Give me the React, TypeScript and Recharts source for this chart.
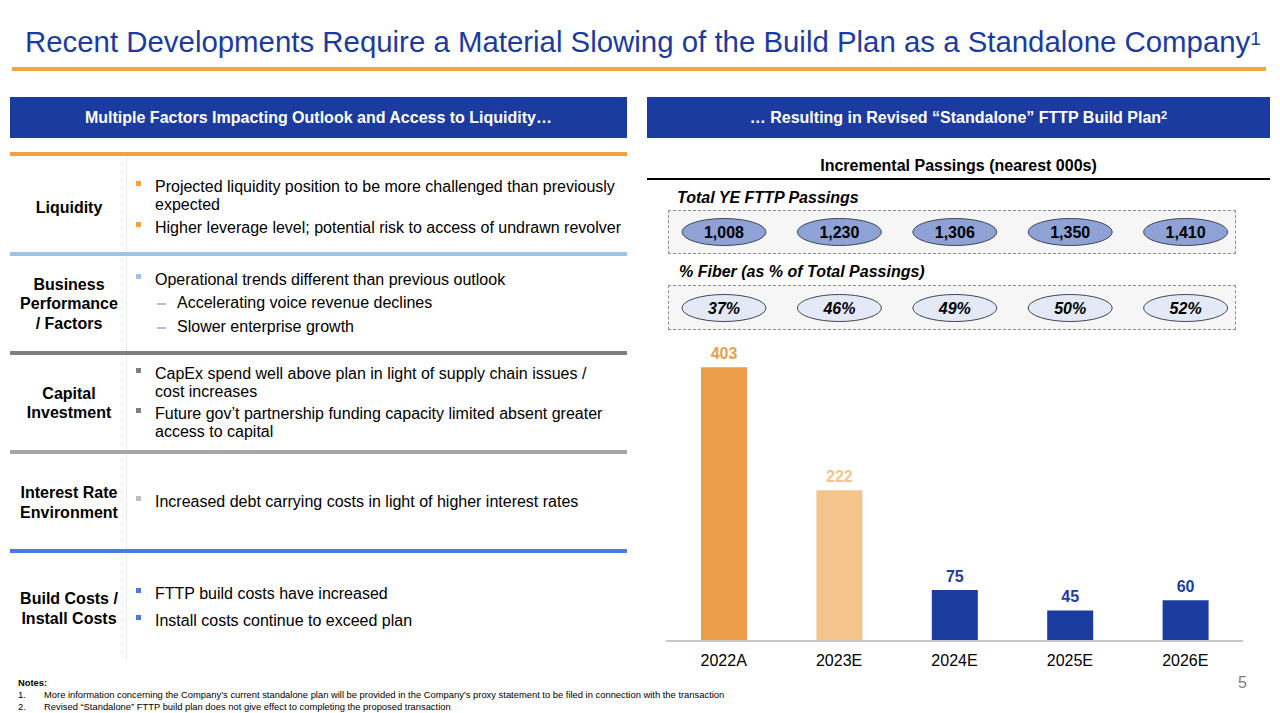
import React from 'react';
import { BarChart, Bar, XAxis, YAxis, Cell, LabelList } from 'recharts';

const years = ['2022A', '2023E', '2024E', '2025E', '2026E'];
const incrementalPassings = [403, 222, 75, 45, 60];
const totalPassings = [1008, 1230, 1306, 1350, 1410];
const fiberPct = [37, 46, 49, 50, 52];
const barColors = ['#EC9F48', '#F3C48C', '#1B3DA0', '#1B3DA0', '#1B3DA0'];
const labelColors = ['#EC9F48', '#F3C48C', '#1B3DA0', '#1B3DA0', '#1B3DA0'];

const data = years.map((year, i) => ({
    year,
    passings: incrementalPassings[i],
    total: totalPassings[i],
    fiber: fiberPct[i],
}));

const FONT = '"Liberation Sans", Arial, sans-serif';
const BLUE = '#1B3B9F';
const TXT = 16;

type Line = { y: number; text: string; dash?: boolean; bullet?: boolean };
type Row = { top: number; line: string; bulletColor: string; dashColor?: string; labels: { y: number; text: string }[]; lines: Line[] };

const rows: Row[] = [
    {
        top: 152, line: '#EFA23F', bulletColor: '#EFA23F',
        labels: [{ y: 208, text: 'Liquidity' }],
        lines: [
            { y: 187, text: 'Projected liquidity position to be more challenged than previously', bullet: true },
            { y: 205, text: 'expected' },
            { y: 228, text: 'Higher leverage level; potential risk to access of undrawn revolver', bullet: true },
        ],
    },
    {
        top: 252, line: '#9DC3E6', bulletColor: '#9DC3E6', dashColor: '#9DC3E6',
        labels: [{ y: 285, text: 'Business' }, { y: 304, text: 'Performance' }, { y: 324, text: '/ Factors' }],
        lines: [
            { y: 280, text: 'Operational trends different than previous outlook', bullet: true },
            { y: 303, text: 'Accelerating voice revenue declines', dash: true },
            { y: 327, text: 'Slower enterprise growth', dash: true },
        ],
    },
    {
        top: 351, line: '#7F7F7F', bulletColor: '#7F7F7F',
        labels: [{ y: 394, text: 'Capital' }, { y: 413, text: 'Investment' }],
        lines: [
            { y: 374, text: 'CapEx spend well above plan in light of supply chain issues /', bullet: true },
            { y: 392, text: 'cost increases' },
            { y: 414, text: 'Future gov\u2019t partnership funding capacity limited absent greater', bullet: true },
            { y: 432, text: 'access to capital' },
        ],
    },
    {
        top: 450, line: '#A6A6A6', bulletColor: '#BFBFBF',
        labels: [{ y: 493, text: 'Interest Rate' }, { y: 513, text: 'Environment' }],
        lines: [
            { y: 502, text: 'Increased debt carrying costs in light of higher interest rates', bullet: true },
        ],
    },
    {
        top: 549, line: '#4A78E6', bulletColor: '#4A78E6',
        labels: [{ y: 599, text: 'Build Costs /' }, { y: 619, text: 'Install Costs' }],
        lines: [
            { y: 594, text: 'FTTP build costs have increased', bullet: true },
            { y: 621, text: 'Install costs continue to exceed plan', bullet: true },
        ],
    },
];

const abs = (left: number, top: number, extra: React.CSSProperties = {}): React.CSSProperties => ({
    position: 'absolute', left, top, ...extra,
});

function TotalEllipse(props: any) {
    const { x, width, value } = props;
    const cx = x + width / 2;
    return (
        <g>
            <ellipse cx={cx} cy={52} rx={42} ry={13.5} fill="#8EA2D6" stroke="#404653" strokeWidth={1} />
            <text x={cx} y={58} textAnchor="middle" fontSize={16} fontWeight="bold" fill="#000" fontFamily={FONT}>
                {Number(value).toLocaleString('en-US')}
            </text>
        </g>
    );
}

function FiberEllipse(props: any) {
    const { x, width, value } = props;
    const cx = x + width / 2;
    return (
        <g>
            <ellipse cx={cx} cy={128} rx={42} ry={13.5} fill="#E4E9F8" stroke="#404653" strokeWidth={1} />
            <text x={cx} y={134} textAnchor="middle" fontSize={16} fontWeight="bold" fontStyle="italic" fill="#000" fontFamily={FONT}>
                {value}%
            </text>
        </g>
    );
}

function ValueLabel(props: any) {
    const { x, y, width, value, index } = props;
    return (
        <text x={x + width / 2} y={y - 8} textAnchor="middle" fontSize={16} fontWeight="bold" fill={labelColors[index]} fontFamily={FONT}>
            {value}
        </text>
    );
}

function Panel() {
    return (
        <div style={abs(647, 180, { width: 620, height: 500 })}>
            <BarChart width={620} height={500} data={data} margin={{ top: 162, right: 24, left: 19, bottom: 9 }}>
                <XAxis
                    dataKey="year"
                    axisLine={{ stroke: '#C8C8C8', strokeWidth: 2 }}
                    tickLine={false}
                    tickMargin={8}
                    height={30}
                    tick={{ fontSize: 16, fill: '#000', fontFamily: FONT }}
                    interval={0}
                />
                <YAxis hide domain={[0, 440]} />
                <Bar dataKey="passings" barSize={46} isAnimationActive={false}>
                    {data.map((d, i) => (
                        <Cell key={d.year} fill={barColors[i]} />
                    ))}
                    <LabelList dataKey="passings" content={ValueLabel} />
                    <LabelList dataKey="total" content={TotalEllipse} />
                    <LabelList dataKey="fiber" content={FiberEllipse} />
                </Bar>
            </BarChart>
        </div>
    );
}

export default function App() {
    return (
        <div style={{ position: 'absolute', left: 0, top: 0, width: 1280, height: 713, background: '#fff', fontFamily: FONT, color: '#000', overflow: 'hidden' }}>
            <div style={abs(25, 24, { fontSize: 29.4, color: BLUE, whiteSpace: 'nowrap', lineHeight: '36px' })}>
                Recent Developments Require a Material Slowing of the Build Plan as a Standalone Company
                <span style={{ fontSize: 19, position: 'relative', top: -7 }}>1</span>
            </div>
            <div style={abs(12, 67, { width: 1254, height: 4, background: '#F0A53E' })} />

            <div style={abs(10, 97, { width: 617, height: 41, background: BLUE, color: '#fff', fontWeight: 'bold', fontSize: TXT, lineHeight: '41px', textAlign: 'center', whiteSpace: 'nowrap' })}>
                Multiple Factors Impacting Outlook and Access to Liquidity&hellip;
            </div>
            <div style={abs(647, 97, { width: 623, height: 41, background: BLUE, color: '#fff', fontWeight: 'bold', fontSize: TXT, lineHeight: '41px', textAlign: 'center', whiteSpace: 'nowrap' })}>
                &hellip; Resulting in Revised &ldquo;Standalone&rdquo; FTTP Build Plan<span style={{ fontSize: 11, position: 'relative', top: -4 }}>2</span>
            </div>

            <div style={abs(126, 157, { width: 0, height: 502, borderLeft: '1px dotted #D9D9D9' })} />
            {rows.map((row) => (
                <React.Fragment key={row.top}>
                    <div style={abs(10, row.top, { width: 617, height: 4, background: row.line })} />
                    {row.labels.map((l) => (
                        <div key={l.text} style={abs(6, l.y - 10, { width: 126, textAlign: 'center', fontWeight: 'bold', fontSize: TXT, lineHeight: '20px', whiteSpace: 'nowrap' })}>
                            {l.text}
                        </div>
                    ))}
                    {row.lines.map((ln) => (
                        <React.Fragment key={ln.text}>
                            {ln.bullet && <div style={abs(136, ln.y - 6, { width: 5, height: 5, background: row.bulletColor })} />}
                            {ln.dash && <div style={abs(157, ln.y, { width: 9, height: 1.5, background: row.dashColor })} />}
                            <div style={abs(ln.dash ? 177 : 155, ln.y - 10, { fontSize: TXT, lineHeight: '20px', whiteSpace: 'nowrap' })}>
                                {ln.text}
                            </div>
                        </React.Fragment>
                    ))}
                </React.Fragment>
            ))}

            <div style={abs(647, 156, { width: 623, textAlign: 'center', fontWeight: 'bold', fontSize: TXT, lineHeight: '20px' })}>
                Incremental Passings (nearest 000s)
            </div>
            <div style={abs(647, 178, { width: 623, height: 2, background: '#000' })} />
            <div style={abs(677, 188, { fontWeight: 'bold', fontStyle: 'italic', fontSize: TXT, lineHeight: '20px' })}>
                Total YE FTTP Passings
            </div>
            <div style={abs(668, 210, { width: 568, height: 44, border: '1.5px dashed #8C8C8C', background: '#F6F6F6', boxSizing: 'border-box' })} />
            <div style={abs(679, 262, { fontWeight: 'bold', fontStyle: 'italic', fontSize: TXT, lineHeight: '20px' })}>
                % Fiber (as % of Total Passings)
            </div>
            <div style={abs(668, 285, { width: 568, height: 45, border: '1.5px dashed #8C8C8C', background: '#F6F6F6', boxSizing: 'border-box' })} />

            <Panel />

            <div style={abs(1238, 674, { fontSize: 16, color: '#7F7F7F' })}>5</div>
            <div style={abs(18, 677, { fontSize: 9.4, fontWeight: 'bold', lineHeight: '12px' })}>Notes:</div>
            <div style={abs(18, 689, { fontSize: 9.4, lineHeight: '12px' })}>1.</div>
            <div style={abs(44, 689, { fontSize: 9.4, lineHeight: '12px', whiteSpace: 'nowrap' })}>
                More information concerning the Company&rsquo;s current standalone plan will be provided in the Company&rsquo;s proxy statement to be filed in connection with the transaction
            </div>
            <div style={abs(18, 701, { fontSize: 9.4, lineHeight: '12px' })}>2.</div>
            <div style={abs(44, 701, { fontSize: 9.4, lineHeight: '12px', whiteSpace: 'nowrap' })}>
                Revised &ldquo;Standalone&rdquo; FTTP build plan does not give effect to completing the proposed transaction
            </div>
        </div>
    );
}
